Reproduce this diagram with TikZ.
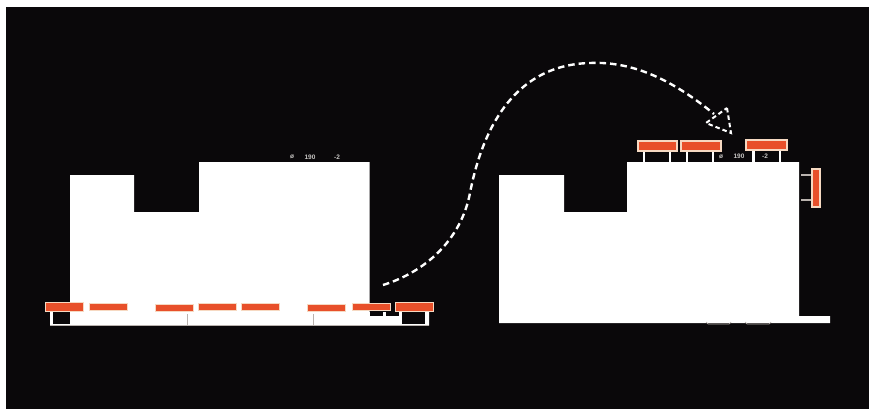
\documentclass[tikz,border=0pt]{standalone}
\usepackage{fontspec}
\setmainfont{Liberation Sans}
\definecolor{bgk}{HTML}{0A080A}
\definecolor{benchor}{HTML}{E8502A}
\definecolor{benchpale}{HTML}{F6D9C2}
\definecolor{tickg}{HTML}{B9B2AE}
\definecolor{labg}{HTML}{C8C6C4}
\tikzset{
  wall/.style={fill=white,draw=none},
  darkbit/.style={fill=bgk,draw=none},
  benchh/.style={fill=benchor,draw=benchpale,line width=.8pt},
  benchbig/.style={fill=benchor,draw=benchpale,line width=2.2pt},
  legw/.style={draw=white,line width=2.6pt},
  legs/.style={draw=tickg,line width=2pt},
  tickm/.style={draw=tickg,line width=.7pt},
  lab/.style={text=labg,font=\bfseries\fontsize{6.5}{6.5}\selectfont,inner sep=0pt},
  flow/.style={draw=white,line width=2.4pt,dash pattern=on 6.5pt off 4pt},
}
\begin{document}
\begin{tikzpicture}[x=1pt,y=-1pt]
\useasboundingbox (0,0) rectangle (869,409);
\fill[white] (0,0) rectangle (869,409);
\fill[bgk] (6,7) rectangle (869,409);
% left building
\fill[wall] (70,175) -- (134,175) -- (134,212) -- (199,212) -- (199,162) -- (369.5,162) -- (369.5,312) -- (425,312) -- (425,303) -- (429,303) -- (429,325.5) -- (50,325.5) -- (50,303) -- (70,303) -- cycle;
\fill[darkbit] (52.5,312) rectangle (70,324);
\fill[darkbit] (402,312) rectangle (425,323.5);
\fill[darkbit] (370,312) rectangle (383,316);
\fill[darkbit] (386,312) rectangle (399,316);
\draw[tickm] (187,314) -- (187,325);
\draw[tickm] (313,314) -- (313,325);
\draw[tickm] (158,325) -- (162,325);
\draw[tickm] (336,325) -- (341,325);
\draw[tickm] (50,325.5) -- (429,325.5);
\fill[benchh] (45.5,302.5) rectangle (83.5,311);
\fill[benchh] (89,303) rectangle (127,310.5);
\fill[benchh] (155,304) rectangle (193,311.5);
\fill[benchh] (198,303) rectangle (236,310.5);
\fill[benchh] (241,303) rectangle (279,310.5);
\fill[benchh] (307,304) rectangle (345,311.5);
\fill[benchh] (352,303) rectangle (390,310.5);
\fill[benchh] (395,302.5) rectangle (433,311.5);
\draw[benchh] (45.5,302.5) rectangle (83.5,311);
\draw[benchh] (395,302.5) rectangle (433,311.5);
\node[lab] (la) at (292,157) {ø};
\node[lab] (lb) at (310,157) {190};
\node[lab] (lc) at (337,157) {-2};
% right building
\fill[wall] (499,175) -- (564,175) -- (564,212) -- (627,212) -- (627,162) -- (799,162) -- (799,316) -- (830,316) -- (830,323) -- (499,323) -- cycle;
\draw[tickm] (706,322) -- (708,324) -- (729,324) -- (731,322);
\draw[tickm] (745,322) -- (747,324) -- (769,324) -- (771,322);
\draw[legw] (644,152) -- (644,162);
\draw[legw] (670,152) -- (670,162);
\draw[legw] (687,152) -- (687,162);
\draw[legw] (713,152) -- (713,162);
\draw[legw] (753.5,151) -- (753.5,162);
\draw[legw] (780,151) -- (780,162);
\draw[benchbig] (638,141) rectangle (677,151);
\draw[benchbig] (681,141) rectangle (721,151);
\draw[benchbig] (746,140) rectangle (787,150);
\draw[legs] (801,175) -- (811,175);
\draw[legs] (801,200) -- (811,200);
\draw[benchbig] (812,169) rectangle (820,207);
\node[lab] (ra) at (721,156.5) {ø};
\node[lab] (rb) at (739,156.5) {190};
\node[lab] (rc) at (765,156.5) {-2};
% transfer arrow
\coordinate (start) at (383,285);
\coordinate (waist) at (470,193);
\coordinate (crest) at (590,63);
\coordinate (tipbase) at (714,114);
\draw[flow] (start) .. controls (425,272) and (461,240) .. (waist)
  .. controls (481,136) and (510,65) .. (crest)
  .. controls (635,61) and (675,82) .. (tipbase);
\coordinate (tipa) at (727,108);
\coordinate (tipb) at (731,133);
\coordinate (tipc) at (706,123);
\draw[flow,line width=2pt,dash pattern=on 4.5pt off 3pt] (tipa) -- (tipb) -- (tipc) -- cycle;
\end{tikzpicture}
\end{document}
